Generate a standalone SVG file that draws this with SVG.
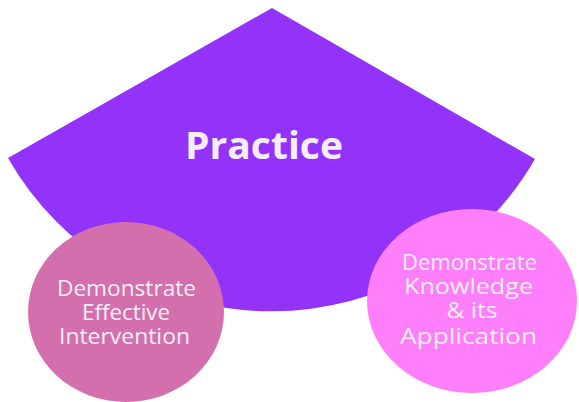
<svg xmlns="http://www.w3.org/2000/svg" width="579" height="402" viewBox="0 0 579 402">
  <style>
    .lbl { font-family: "Open Sans", "Noto Sans", "Liberation Sans", sans-serif; fill: #f4eef6; text-anchor: middle; }
    .title { font-size: 38px; font-weight: 700; }
    .sub { font-size: 21px; font-weight: 400; }
    .sub2 { font-size: 22px; font-weight: 400; }
  </style>
  <rect width="579" height="402" fill="#ffffff"/>
  <g id="practice">
    <path d="M 272 8 L 8 158 A 303.6 303.6 0 0 0 535 159 Z" fill="#9333fa"/>
    <text class="lbl title" x="264" y="159" textLength="158" lengthAdjust="spacingAndGlyphs">Practice</text>
  </g>
  <g id="intervention">
    <ellipse cx="126" cy="312" rx="98" ry="90" fill="#d46fae"/>
    <text class="lbl sub" x="126.5" y="296" textLength="139" lengthAdjust="spacingAndGlyphs">Demonstrate</text>
    <text class="lbl sub" x="126" y="320" textLength="88" lengthAdjust="spacingAndGlyphs">Effective</text>
    <text class="lbl sub" x="124.5" y="344" textLength="131" lengthAdjust="spacingAndGlyphs">Intervention</text>
  </g>
  <g id="knowledge">
    <ellipse cx="472" cy="301" rx="105" ry="92" fill="#fe7efb"/>
    <text class="lbl sub2" x="469.5" y="270" textLength="135" lengthAdjust="spacingAndGlyphs">Demonstrate</text>
    <text class="lbl sub2" x="468.5" y="294" textLength="129" lengthAdjust="spacingAndGlyphs">Knowledge</text>
    <text class="lbl sub2" x="472" y="318" textLength="51" lengthAdjust="spacingAndGlyphs">&amp; its</text>
    <text class="lbl sub2" x="468.5" y="344" textLength="137" lengthAdjust="spacingAndGlyphs">Application</text>
  </g>
  <g id="connectors"></g>
</svg>
